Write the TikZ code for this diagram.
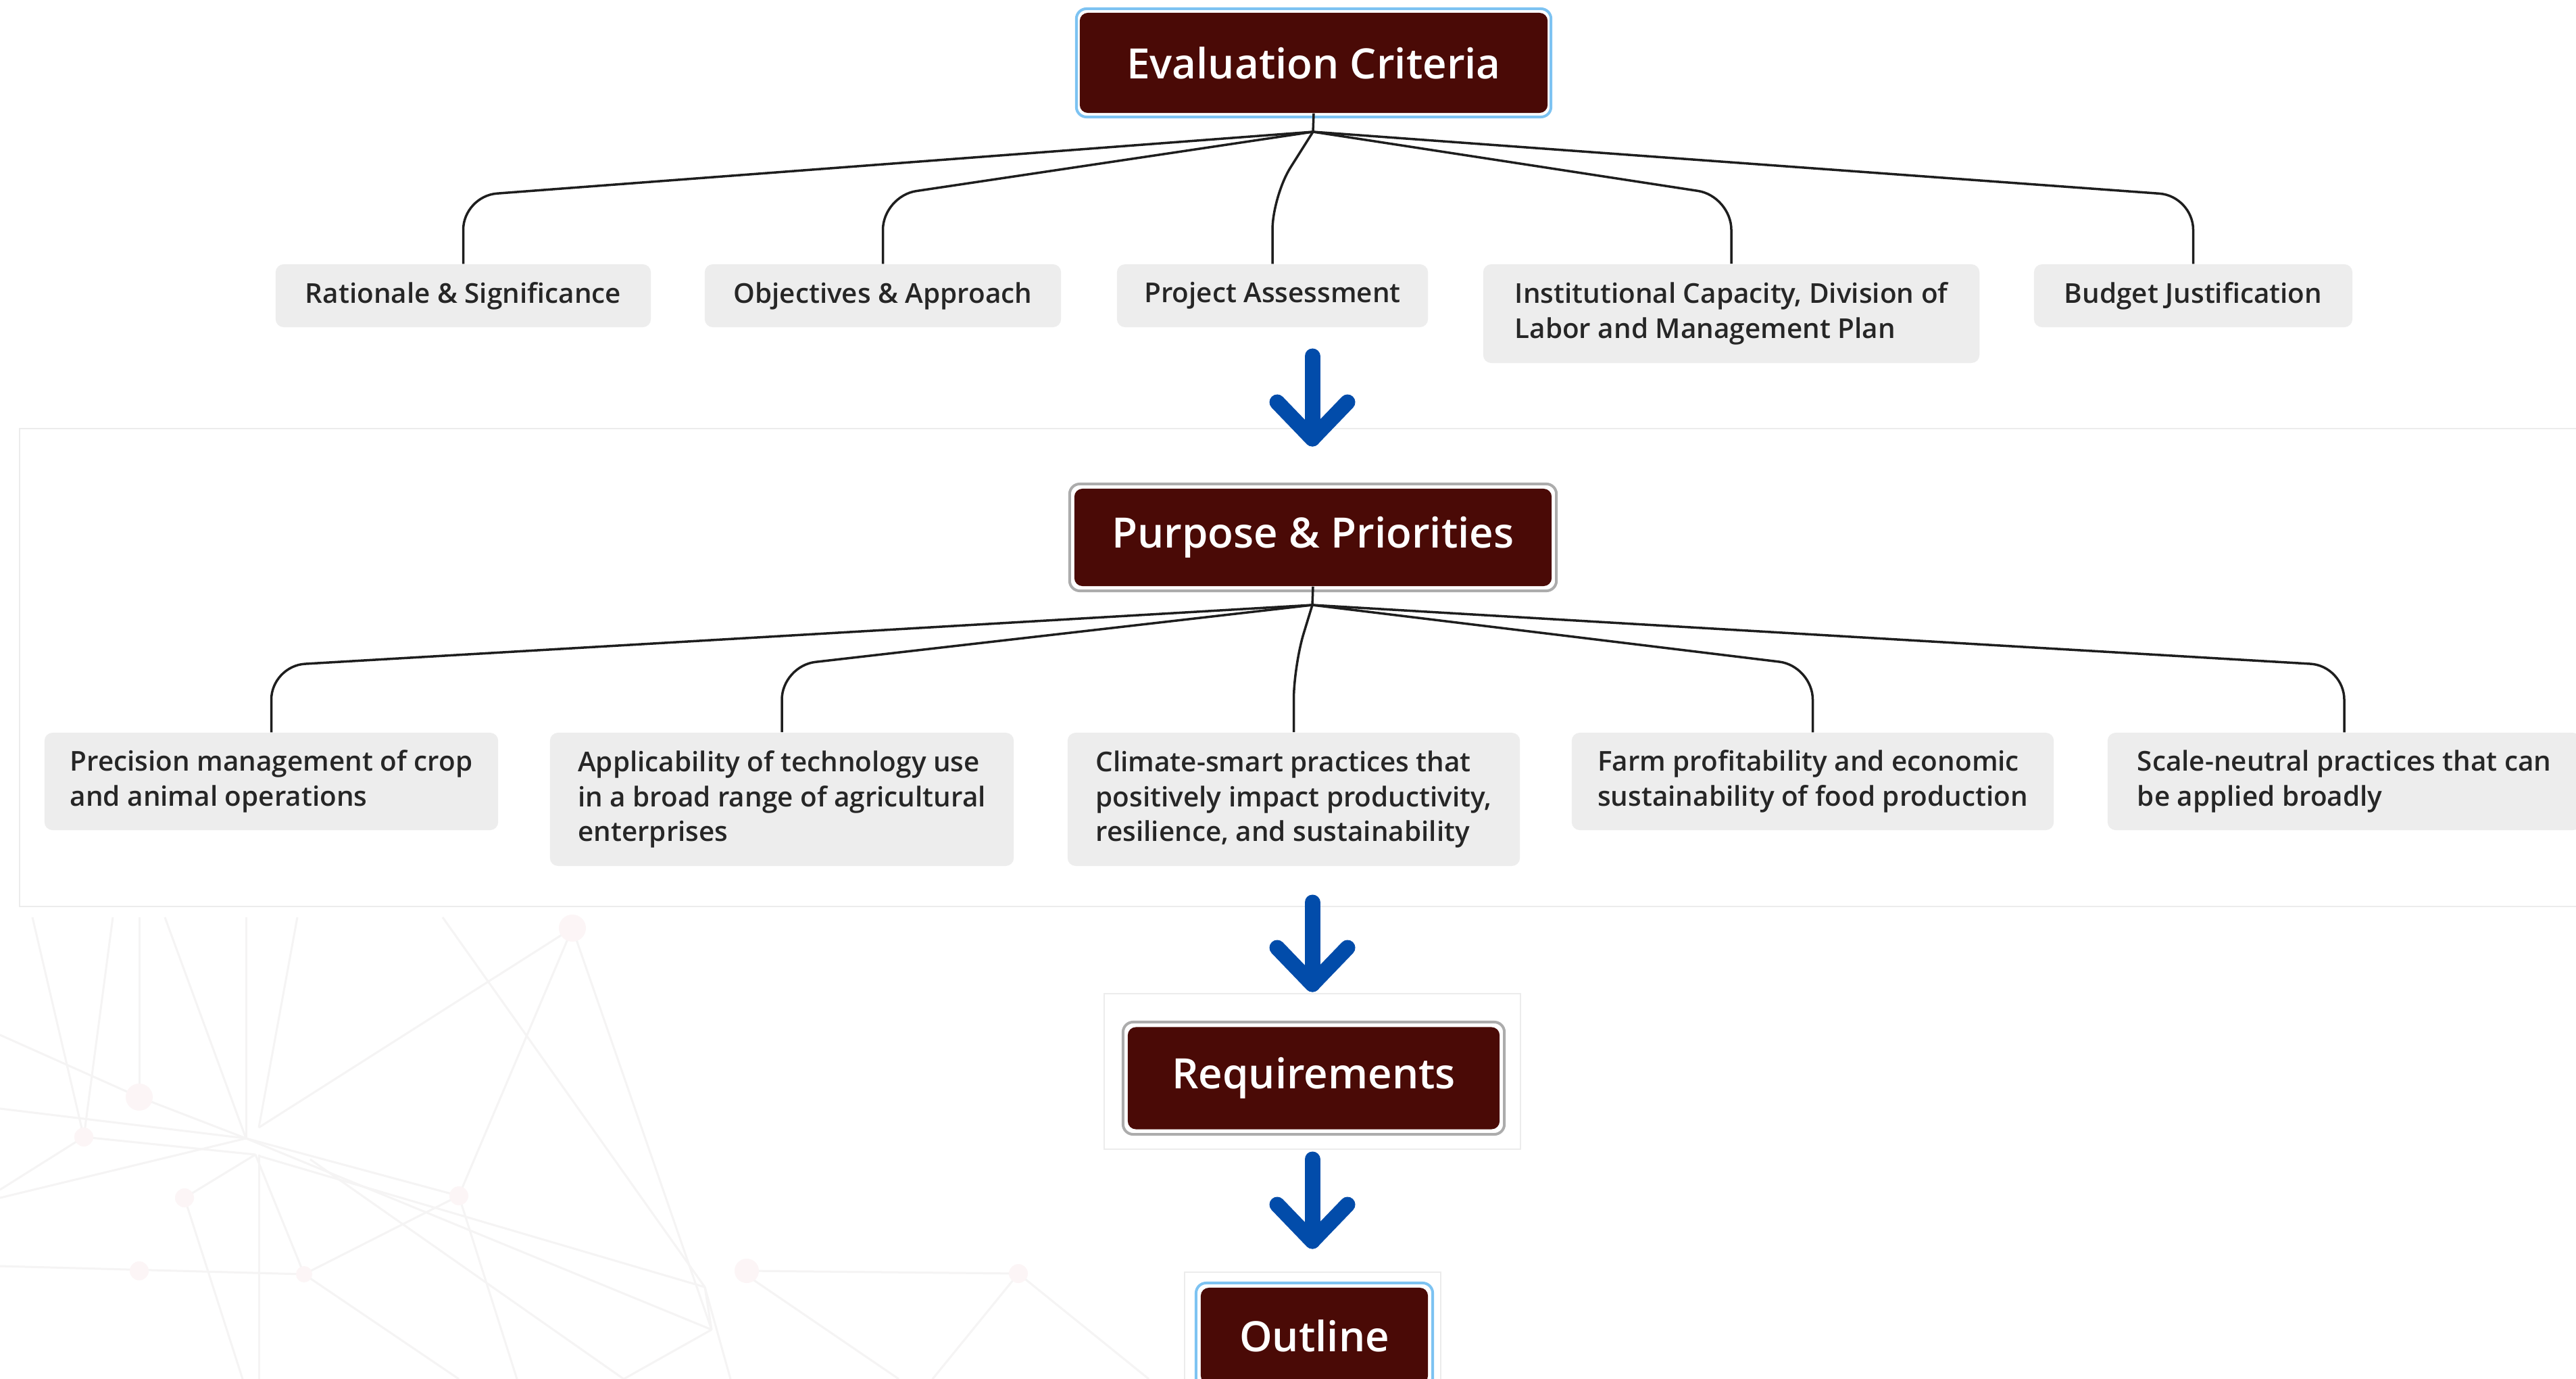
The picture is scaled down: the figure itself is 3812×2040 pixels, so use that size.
\documentclass[tikz,border=0pt]{standalone}
\usepackage{fontspec}
\usetikzlibrary{calc}
\setmainfont{Open Sans}
\IfFontExistsTF{Open Sans Semibold}
  {\newfontfamily\titlefont{Open Sans Semibold}\newfontfamily\childfont{Open Sans Semibold}}
  {\newfontfamily\titlefont{Open Sans}[FakeBold=3]\newfontfamily\childfont{Open Sans}[FakeBold=3]}
\definecolor{maroon}{RGB}{74,10,6}
\definecolor{boxgray}{RGB}{237,237,237}
\definecolor{txt}{RGB}{38,38,38}
\definecolor{linec}{RGB}{30,30,30}
\definecolor{arrowblue}{RGB}{2,76,170}
\definecolor{blueframe}{RGB}{125,195,242}
\definecolor{grayframe}{RGB}{172,172,172}
\definecolor{panelgray}{RGB}{236,236,236}
\definecolor{netgray}{RGB}{245,244,244}
\definecolor{netdot}{RGB}{252,245,246}
\begin{document}
\begin{tikzpicture}[x=0.01cm,y=-0.01cm,
  titlebox/.style={fill=maroon, rounded corners=0.12cm, text=white, inner sep=0pt,
    font=\titlefont\fontsize{17.6}{22}\selectfont},
  frameblue/.style={draw=blueframe, line width=0.04cm, fill=white, rounded corners=0.15cm, inner sep=0pt},
  framegray/.style={draw=grayframe, line width=0.04cm, fill=white, rounded corners=0.15cm, inner sep=0pt},
  childbox/.style={fill=boxgray, rounded corners=0.12cm, text=txt, inner sep=0pt,
    font=\childfont\fontsize{11.5}{14.6}\selectfont},
  conn/.style={draw=linec, line width=0.035cm, rounded corners=0.5cm},
  bigarrow/.style={draw=arrowblue, line width=0.23cm, line cap=round, line join=round},
  net/.style={draw=netgray, line width=0.03cm},
  netpt/.style={fill=netdot},
  panel/.style={fill=white, draw=panelgray, line width=0.02cm}]
\useasboundingbox (0,0) rectangle (3812,2040);
\fill[white] (0,0) rectangle (3812,2040);
% faint background network
\draw[net] (0,1531)--(206,1623)--(364,1684);
\draw[net] (0,1640)--(364,1684);
\draw[net] (0,1772)--(364,1684);
\draw[net] (0,1760)--(124,1682);
\draw[net] (48,1357)--(124,1682);
\draw[net] (167,1357)--(124,1682);
\draw[net] (206,1357)--(206,1623);
\draw[net] (244,1357)--(364,1684);
\draw[net] (364,1357)--(364,1684);
\draw[net] (440,1357)--(383,1668);
\draw[net] (655,1357)--(1043,1904);
\draw[net] (847,1373)--(383,1668);
\draw[net] (847,1373)--(679,1769);
\draw[net] (847,1373)--(1053,1967);
\draw[net] (364,1684)--(679,1769);
\draw[net] (383,1710)--(1043,1904);
\draw[net] (124,1682)--(378,1708);
\draw[net] (378,1708)--(450,1885);
\draw[net] (378,1708)--(273,1772);
\draw[net] (273,1772)--(359,2040);
\draw[net] (679,1769)--(450,1885);
\draw[net] (0,1873)--(450,1885);
\draw[net] (450,1885)--(679,2040);
\draw[net] (679,1769)--(765,2040);
\draw[net] (459,1715)--(923,2040);
\draw[net] (364,1684)--(1053,1967);
\draw[net] (1053,1967)--(923,2040);
\draw[net] (1043,1904)--(1081,2040);
\draw[net] (1043,1904)--(1053,1967);
\draw[net] (1110,1890)--(1330,2040);
\draw[net] (383,1708)--(383,2040);
\draw[net] (1105,1880)--(1507,1884)--(1700,2040);
\draw[net] (1507,1884)--(1380,2040);
\fill[netpt] (847,1373) circle (20);
\fill[netpt] (206,1623) circle (20);
\fill[netpt] (124,1682) circle (14);
\fill[netpt] (273,1772) circle (14);
\fill[netpt] (679,1769) circle (14);
\fill[netpt] (206,1880) circle (14);
\fill[netpt] (1105,1880) circle (18);
\fill[netpt] (450,1885) circle (12);
\fill[netpt] (1507,1884) circle (14);
% panels
\draw[panel] (29,634) rectangle (3830,1341);
\draw[panel] (1634,1470) rectangle (2250,1700);
\draw[panel] (1753,1882) rectangle (2132,2060);
% level 1
\node[frameblue, minimum width=7.02cm, minimum height=1.60cm] (ecf) at (1944,93) {};
\node[titlebox, minimum width=6.92cm, minimum height=1.48cm] (ec) at (1944,93) {Evaluation Criteria};
\coordinate (j1) at (1943,195);
\coordinate (k1) at (0,290);
\node[childbox, minimum width=5.55cm, minimum height=0.93cm] (r1) at (685.5,437.5) {Rationale \& Significance};
\node[childbox, minimum width=5.27cm, minimum height=0.93cm] (o1) at (1306.5,437.5) {Objectives \& Approach};
\node[childbox, minimum width=4.60cm, minimum height=0.93cm] (p1) at (1883,437.5) {Project Assessment};
\node[childbox, minimum width=7.34cm, minimum height=1.46cm, align=left] (i1) at (2562,464) {Institutional Capacity, Division of\\Labor and Management Plan};
\node[childbox, minimum width=4.71cm, minimum height=0.93cm] (b1) at (3245.5,437.5) {Budget Justification};
\draw[conn] (ec.south) -- (j1);
\draw[conn] (j1) -- (r1.north |- k1) -- (r1.north);
\draw[conn] (j1) -- (o1.north |- k1) -- (o1.north);
\draw[conn] (j1) -- (p1.north |- k1) -- (p1.north);
\draw[conn] (j1) -- (i1.north |- k1) -- (i1.north);
\draw[conn] (j1) -- (b1.north |- k1) -- (b1.north);
% arrow 1
\coordinate (a1s) at (1942,527);
\coordinate (a1t) at (1942,649);
\draw[bigarrow] (a1s) -- (a1t);
\draw[bigarrow] ($(a1t)+(-52,-54)$) -- (a1t) -- ($(a1t)+(52,-54)$);
% level 2
\node[framegray, minimum width=7.20cm, minimum height=1.58cm] (ppf) at (1943,795) {};
\node[titlebox, minimum width=7.06cm, minimum height=1.44cm] (pp) at (1943,795) {Purpose \& Priorities};
\coordinate (j2) at (1942,895);
\coordinate (k2) at (0,985);
\node[childbox, minimum width=6.71cm, minimum height=1.44cm, align=left] (c1) at (401.5,1156) {Precision management of crop\\and animal operations};
\node[childbox, minimum width=6.86cm, minimum height=1.97cm, align=left] (c2) at (1157,1182.5) {Applicability of technology use\\in a broad range of agricultural\\enterprises};
\node[childbox, minimum width=6.69cm, minimum height=1.97cm, align=left] (c3) at (1914.5,1182.5) {Climate-smart practices that\\positively impact productivity,\\resilience, and sustainability};
\node[childbox, minimum width=7.13cm, minimum height=1.44cm, align=left] (c4) at (2682.5,1156) {Farm profitability and economic\\sustainability of food production};
\node[childbox, minimum width=7.00cm, minimum height=1.44cm, align=left] (c5) at (3469,1156) {Scale-neutral practices that can\\be applied broadly};
\draw[conn] (pp.south) -- (j2);
\draw[conn] (j2) -- (c1.north |- k2) -- (c1.north);
\draw[conn] (j2) -- (c2.north |- k2) -- (c2.north);
\draw[conn] (j2) -- (c3.north |- k2) -- (c3.north);
\draw[conn] (j2) -- (c4.north |- k2) -- (c4.north);
\draw[conn] (j2) -- (c5.north |- k2) -- (c5.north);
% arrow 2
\coordinate (a2s) at (1942,1335);
\coordinate (a2t) at (1942,1456);
\draw[bigarrow] (a2s) -- (a2t);
\draw[bigarrow] ($(a2t)+(-52,-54)$) -- (a2t) -- ($(a2t)+(52,-54)$);
% level 3
\node[framegray, minimum width=5.64cm, minimum height=1.66cm] (rqf) at (1944,1595) {};
\node[titlebox, minimum width=5.50cm, minimum height=1.51cm] (rq) at (1944,1595) {Requirements};
% arrow 3
\coordinate (a3s) at (1942,1715);
\coordinate (a3t) at (1942,1836);
\draw[bigarrow] (a3s) -- (a3t);
\draw[bigarrow] ($(a3t)+(-52,-54)$) -- (a3t) -- ($(a3t)+(52,-54)$);
% level 4
\node[frameblue, minimum width=3.50cm, minimum height=1.56cm] (olf) at (1945,1976) {};
\node[titlebox, minimum width=3.36cm, minimum height=1.42cm] (ol) at (1945,1976) {Outline};
\end{tikzpicture}
\end{document}
